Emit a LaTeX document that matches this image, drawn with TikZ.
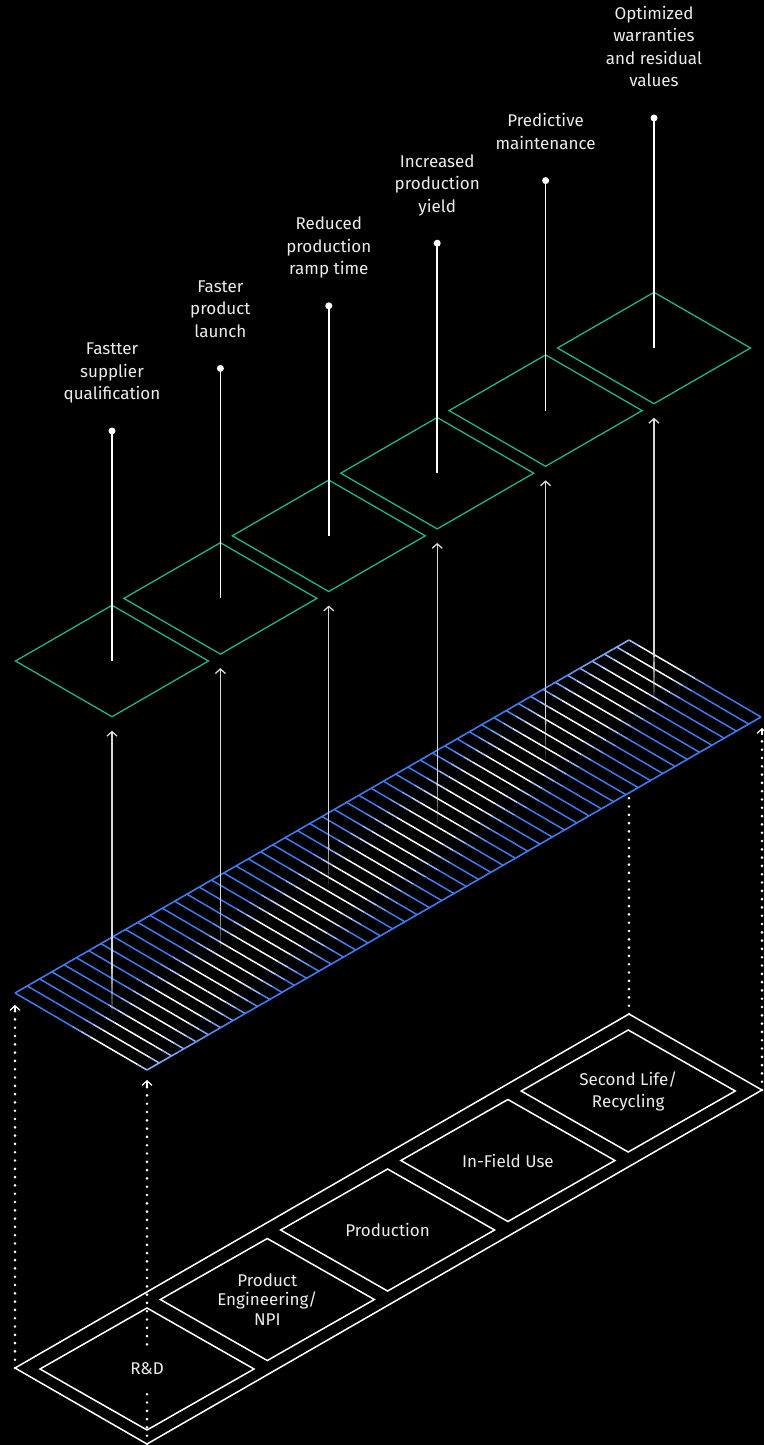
\documentclass[tikz,border=0pt]{standalone}
\usepackage{fontspec}
\setmainfont{Fira Sans}
\usetikzlibrary{arrows.meta,calc}
\definecolor{myblue}{RGB}{64,122,238}
\definecolor{mygreen}{RGB}{38,178,138}
\definecolor{txt}{RGB}{236,236,236}
\begin{document}
\begin{tikzpicture}[x=1pt,y=-1pt,
  lbl/.style={text=txt, align=center, font=\fontsize{17}{22.5}\selectfont, inner sep=0pt, anchor=south, text depth=0pt},
  boxlbl/.style={text=txt, align=center, font=\fontsize{17}{20}\selectfont, inner sep=0pt},
  gdia/.style={draw=mygreen, line width=1.3pt, line join=miter},
  wline/.style={draw=white, line width=1.5pt},
  dotline/.style={draw=white, line width=2.9pt, line cap=round, dash pattern=on 0pt off 8.3pt},
  barb/.style={draw=white, line width=1.2pt, -{Straight Barb[length=4.5pt,width=10pt]}},
  arrline/.style={draw=white!85!black, line width=1.3pt, -{Straight Barb[length=4.5pt,width=10pt]}},
  ]
\useasboundingbox (0,0) rectangle (764,1445);
\fill[black] (0,0) rectangle (764,1445);

% ---------- hatched slab ----------
\coordinate (SL) at (15,993);
\coordinate (SB) at (147,1070);
\coordinate (SR) at (762,716);
\coordinate (ST) at (629,640);
\foreach \i in {0,...,50}{
  \pgfmathsetmacro{\u}{\i/50}
  \pgfmathsetmacro{\c}{0.75-0.5*\u}
  \foreach \j in {1,...,14}{
    \pgfmathsetmacro{\va}{(\j-1)/14}
    \pgfmathsetmacro{\vb}{\j/14}
    \pgfmathsetmacro{\vm}{(\j-0.5)/14}
    \pgfmathsetmacro{\f}{max(0,min(1,(0.33-abs(\vm-\c))/0.2))}
    \pgfmathsetmacro{\p}{100*(1-\f)}
    \draw[myblue!\p!white, line width=1.5pt] (15+614*\u+132*\va, 993-353*\u+77*\va) -- (15+614*\u+132*\vb, 993-353*\u+77*\vb);
  }
}
% long edges
\foreach \j in {1,...,40}{
  \pgfmathsetmacro{\ua}{(\j-1)/40}
  \pgfmathsetmacro{\ub}{\j/40}
  \pgfmathsetmacro{\um}{(\j-0.5)/40}
  \pgfmathsetmacro{\c}{0.75-0.5*\um}
  \pgfmathsetmacro{\ft}{max(0,min(1,(0.33-abs(0-\c))/0.2))}
  \pgfmathsetmacro{\pt}{100*(1-\ft)}
  \pgfmathsetmacro{\fb}{max(0,min(1,(0.33-abs(1-\c))/0.2))}
  \pgfmathsetmacro{\pb}{100*(1-\fb)}
  \draw[myblue!\pt!white, line width=1.6pt] (15+614*\ua, 993-353*\ua) -- (15+614*\ub, 993-353*\ub);
  \draw[myblue!\pb!white, line width=1.6pt] (147+614*\ua, 1070-353*\ua) -- (147+614*\ub, 1070-353*\ub);
}

% ---------- green diamonds, stems, dots ----------
\foreach \k in {1,...,6}{
  \coordinate (g\k) at ({112+108.4*(\k-1)}, {661-62.6*(\k-1)});
  \coordinate (d\k) at ($(g\k)+(0,-230)$);
  \draw[gdia] (g\k) ++(-96.5,0) -- ++(96.5,-55.7) -- ++(96.5,55.7) -- ++(-96.5,55.7) -- cycle;
  \draw[wline] (g\k) -- (d\k);
  \fill[white] (d\k) circle (3.5pt);
}

% ---------- arrows from slab to diamonds ----------
\foreach \k in {1,...,6}{
  \pgfmathsetmacro{\xx}{112+108.4*(\k-1)}
  \pgfmathsetmacro{\sy}{1031.5-(\xx-81)*0.5749}
  \pgfmathsetmacro{\ty}{661-62.6*(\k-1)+55.7+14}
  \coordinate (s\k) at (\xx,\sy);
  \coordinate (f\k) at (\xx,\sy-45);
  \coordinate (a\k) at (\xx,\ty);
  \draw[arrline] (f\k) -- (a\k);
  \foreach \q in {1,...,9}{
    \pgfmathsetmacro{\op}{\q/10}
    \draw[draw=white!85!black, line width=1.3pt, opacity=\op] ($(s\k)!{(\q-1)/9}!(f\k)$) -- ($(s\k)!{\q/9}!(f\k)$);
  }
}

% ---------- labels ----------
\node[lbl] (l1) at ($(d1)+(0,-31)$) {Fastter\\supplier\\qualification};
\node[lbl] (l2) at ($(d2)+(0,-31)$) {Faster\\product\\launch};
\node[lbl] (l3) at ($(d3)+(0,-31)$) {Reduced\\production\\ramp time};
\node[lbl] (l4) at ($(d4)+(0,-31)$) {Increased\\production\\yield};
\node[lbl] (l5) at ($(d5)+(0,-31)$) {Predictive\\maintenance};
\node[lbl] (l6) at ($(d6)+(0,-31)$) {Optimized\\warranties\\and residual\\values};

% ---------- base ----------
\coordinate (BL) at (15,1368);
\coordinate (BB) at (147,1444);
\coordinate (BR) at (762,1090);
\coordinate (BT) at (629,1014);
\draw[wline, line join=miter] (BL) -- (BB) -- (BR) -- (BT) -- cycle;
\foreach \k in {1,...,5}{
  \coordinate (b\k) at ({147+120.3*(\k-1)}, {1369-69.5*(\k-1)});
  \draw[wline, line join=miter] (b\k) ++(-107,0) -- ++(107,-61) -- ++(107,61) -- ++(-107,61) -- cycle;
}

% ---------- dotted uprights ----------
\coordinate (SLa) at ($(SL)+(0,12)$);
\coordinate (SBa) at ($(SB)+(0,10)$);
\coordinate (SRa) at ($(SR)+(0,12)$);
\coordinate (SMe) at ($(SB)!0.7837!(SR)$);
\draw[dotline] (BL) -- ($(SLa)+(0,6)$);
\draw[dotline] (BB) -- ($(SBa)+(0,6)$);
\draw[dotline] (BT) -- ($(SMe)+(0,4)$);
\draw[dotline] (BR) -- ($(SRa)+(0,6)$);
\draw[barb] ($(SLa)+(0,7)$) -- (SLa);
\draw[barb] ($(SBa)+(0,7)$) -- (SBa);
\draw[barb] ($(SRa)+(0,7)$) -- (SRa);

% ---------- box labels ----------
\node[boxlbl, fill=black, inner xsep=3pt, inner ysep=13pt] (t1) at (b1) {R\&D};
\node[boxlbl, font=\fontsize{17}{19.5}\selectfont] (t2) at (b2) {Product\\Engineering/\\NPI};
\node[boxlbl] (t3) at (b3) {Production};
\node[boxlbl] (t4) at (b4) {In-Field Use};
\node[boxlbl, font=\fontsize{17}{22}\selectfont] (t5) at (b5) {Second Life/\\Recycling};
\end{tikzpicture}
\end{document}
